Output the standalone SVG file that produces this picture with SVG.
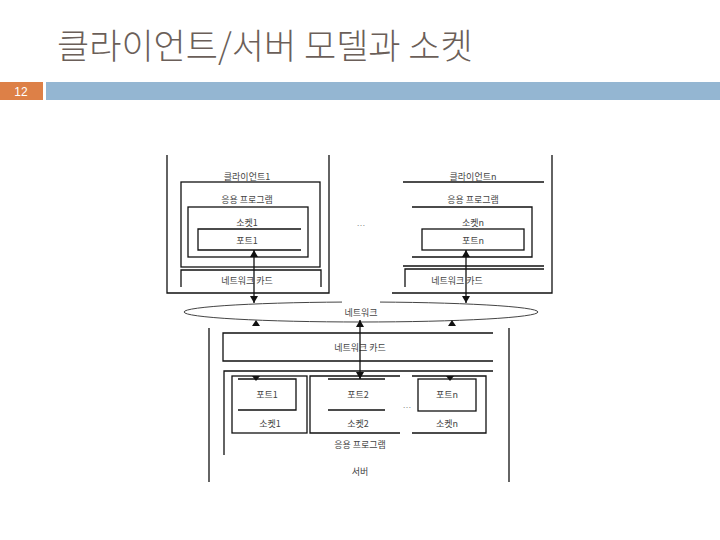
<svg xmlns="http://www.w3.org/2000/svg" width="720" height="540" viewBox="0 0 720 540">
<style>
.ln{fill:none;stroke:#111;stroke-width:1.3}
.lb{font-family:"Noto Sans CJK KR","Noto Sans",sans-serif;font-size:9px;fill:#444;text-anchor:middle}
.dots{font-family:"Liberation Sans",sans-serif;font-size:9px;fill:#888;text-anchor:middle}
.ah{fill:#111}
</style>
<defs>
<marker id="arr" viewBox="0 0 7 8" refX="7" refY="4" markerWidth="7" markerHeight="8" orient="auto-start-reverse" markerUnits="userSpaceOnUse"><path d="M0,0 L7,4 L0,8 Z" class="ah"/></marker>
</defs>
<rect width="720" height="540" fill="#fff"/>
<g id="title">
<text x="57" y="59" font-family="'Noto Sans CJK KR','Noto Sans',sans-serif" font-size="35" font-weight="300" fill="#6b5f59">클라이언트/서버 모델과 소켓</text>
</g>
<g id="header-bar">
<rect x="0" y="82" width="43" height="18" fill="#dd8047"/>
<rect x="46" y="82" width="674" height="18" fill="#94b6d2"/>
<text x="21" y="96" font-family="'Liberation Sans',sans-serif" font-size="12" fill="#fff" text-anchor="middle">12</text>
</g>
<g id="client1">
<path class="ln" d="M167,155 V293 H329 V155"/>
<text class="lb" x="247" y="180">클라이언트1</text>
<rect class="ln" x="181" y="182" width="139" height="85"/>
<text class="lb" x="247" y="203">응용 프로그램</text>
<rect class="ln" x="188" y="207" width="120" height="50"/>
<text class="lb" x="247" y="226">소켓1</text>
<path class="ln" d="M301,229 H198 V250 H301"/>
<text class="lb" x="247" y="244">포트1</text>
<path class="ln" d="M181,287 V270 H321 V287"/>
<text class="lb" x="247" y="284">네트워크 카드</text>
</g>
<g id="clientn">
<path class="ln" d="M552,155 V293 H392"/>
<path class="ln" d="M403,182 H544"/>
<text class="lb" x="473" y="180">클라이언트n</text>
<path class="ln" d="M412,207 H532 V257 H412"/>
<text class="lb" x="473" y="203">응용 프로그램</text>
<text class="lb" x="473" y="226">소켓n</text>
<rect class="ln" x="422" y="229" width="102" height="21"/>
<text class="lb" x="473" y="244">포트n</text>
<path class="ln" d="M403,266 H544"/>
<path class="ln" d="M405,287 V269 H544"/>
<text class="lb" x="457" y="284">네트워크 카드</text>
</g>
<text class="dots" x="361" y="226">…</text>
<g id="network">
<ellipse cx="361" cy="312" rx="177" ry="10" fill="none" stroke="#444" stroke-width="1"/>
<rect x="342" y="300" width="38" height="18" fill="#fff"/>
<text class="lb" x="361" y="316">네트워크</text>
</g>
<g id="server">
<path class="ln" d="M209,328 V482"/>
<path class="ln" d="M509,328 V482"/>
<path class="ln" d="M493,333 H223 V361 H493"/>
<text class="lb" x="360" y="351">네트워크 카드</text>
<path class="ln" d="M493,371 H224 V455"/>
<rect class="ln" x="232" y="376" width="75" height="57"/>
<path class="ln" d="M238,379 H296 V410 H238"/>
<text class="lb" x="267" y="398">포트1</text>
<text class="lb" x="270" y="427">소켓1</text>
<path class="ln" d="M400,376 H310 V433 H400"/>
<path class="ln" d="M328,379 H385 M328,410 H385"/>
<text class="lb" x="358" y="398">포트2</text>
<text class="lb" x="358" y="427">소켓2</text>
<text class="dots" x="407" y="408">…</text>
<path class="ln" d="M412,376 H486 V433 H412"/>
<rect class="ln" x="418" y="379" width="58" height="32"/>
<text class="lb" x="447" y="398">포트n</text>
<text class="lb" x="447" y="427">소켓n</text>
<text class="lb" x="360" y="448">응용 프로그램</text>
<text class="lb" x="360" y="475">서버</text>
</g>
<g id="connectors">
<line class="ln" x1="254" y1="250" x2="254" y2="303" marker-start="url(#arr)" marker-end="url(#arr)"/>
<line class="ln" x1="466" y1="250" x2="466" y2="303" marker-start="url(#arr)" marker-end="url(#arr)"/>
<line class="ln" x1="360" y1="320" x2="360" y2="379" marker-start="url(#arr)" marker-end="url(#arr)"/>
<path class="ah" d="M252,326 L256,320 L260,326 Z"/>
<path class="ah" d="M448,326 L452,320 L456,326 Z"/>
<path class="ah" d="M252,376 L256,381 L260,376 Z"/>
<path class="ah" d="M446,376 L450,381 L454,376 Z"/>
</g>
</svg>
